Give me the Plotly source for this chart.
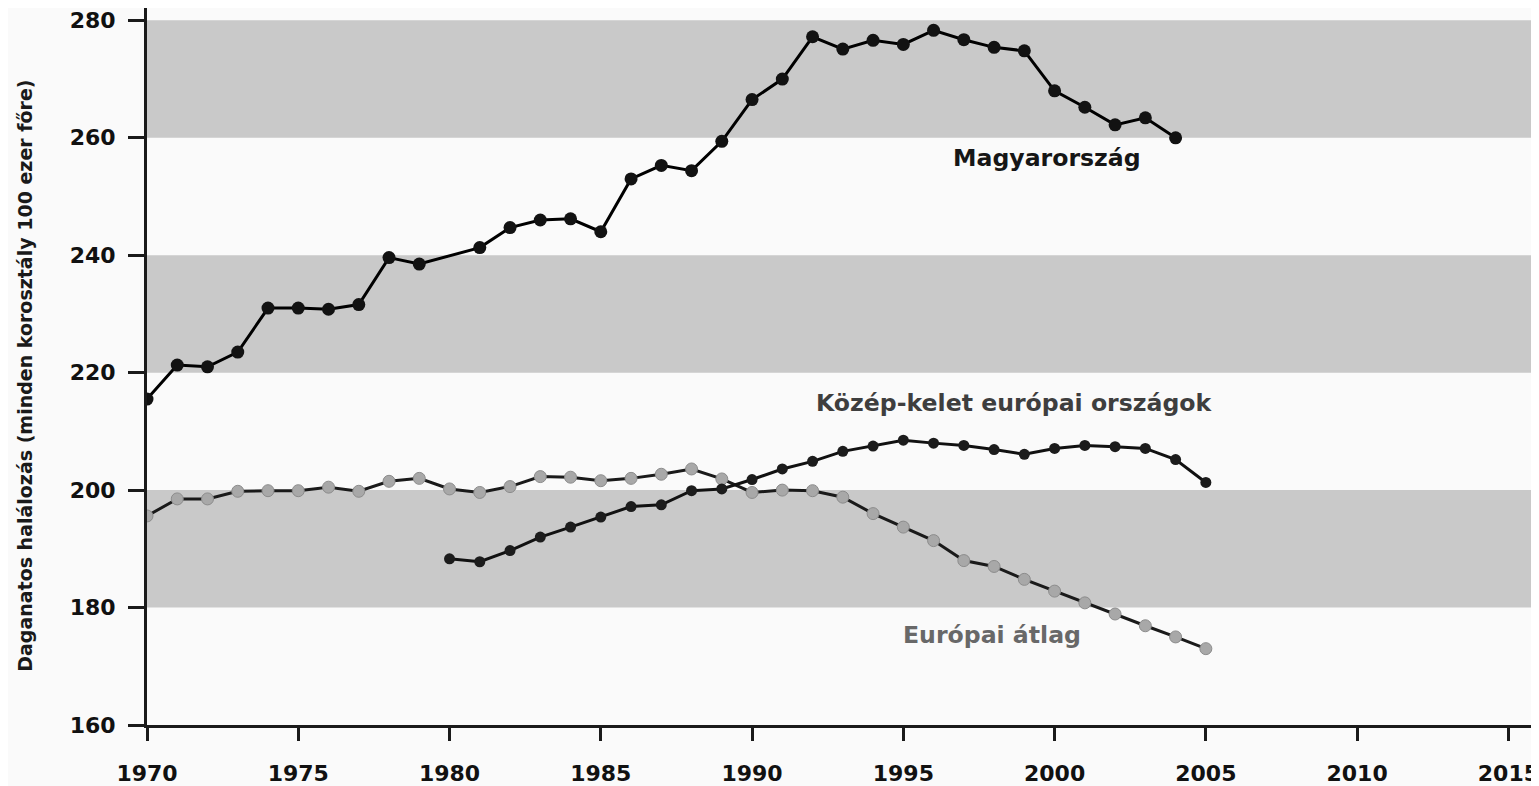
import plotly.graph_objects as go

# Data
years_hu = [1970, 1971, 1972, 1973, 1974, 1975, 1976, 1977, 1978, 1979,
            1981, 1982, 1983, 1984, 1985, 1986, 1987, 1988, 1989, 1990,
            1991, 1992, 1993, 1994, 1995, 1996, 1997, 1998, 1999, 2000,
            2001, 2002, 2003, 2004]
magyarorszag = [215.5, 221.3, 221.0, 223.5, 231.0, 231.0, 230.8, 231.6, 239.6, 238.5,
                241.3, 244.7, 246.0, 246.2, 244.0, 253.0, 255.3, 254.4, 259.4, 266.5,
                270.0, 277.2, 275.1, 276.6, 275.9, 278.3, 276.7, 275.4, 274.8, 268.0,
                265.2, 262.2, 263.4, 260.0]

years_eu = list(range(1970, 2006))
europai_atlag = [195.6, 198.5, 198.5, 199.8, 199.9, 199.9, 200.5, 199.8, 201.5, 202.0,
                 200.2, 199.6, 200.6, 202.3, 202.2, 201.6, 202.0, 202.7, 203.6, 201.9,
                 199.6, 200.0, 199.9, 198.8, 196.0, 193.7, 191.4, 188.0, 187.0, 184.8,
                 182.8, 180.8, 178.9, 176.9, 175.0, 173.0]

years_kk = list(range(1980, 2006))
kozep_kelet = [188.3, 187.8, 189.7, 192.0, 193.7, 195.4, 197.2, 197.5, 199.9, 200.2,
               201.8, 203.6, 204.9, 206.6, 207.5, 208.5, 208.0, 207.6, 206.9, 206.1,
               207.1, 207.6, 207.4, 207.1, 205.2, 201.3]

x_ticks = [1970, 1975, 1980, 1985, 1990, 1995, 2000, 2005, 2010, 2015]
y_ticks = [160, 180, 200, 220, 240, 260, 280]
bands = [(180, 200), (220, 240), (260, 280)]

labels = [
    ("Magyarország", 1999.76, 256.6, "#161616"),
    ("Közép-kelet európai országok", 1998.69, 214.8, "#3e3e3e"),
    ("Európai átlag", 1997.92, 175.3, "#686868"),
]

FONT = "DejaVu Sans, Verdana, sans-serif"

fig = go.Figure()

for y0, y1 in bands:
    fig.add_shape(type="rect", xref="paper", x0=0, x1=1, yref="y", y0=y0, y1=y1,
                  fillcolor="#c9c9c9", line=dict(width=0), layer="below")

fig.add_trace(go.Scatter(
    x=years_eu, y=europai_atlag, mode="lines+markers", name="Európai átlag",
    line=dict(color="#1a1a1a", width=3),
    marker=dict(size=12, color="#a8a8a8", line=dict(color="#8c8c8c", width=1)),
))
fig.add_trace(go.Scatter(
    x=years_kk, y=kozep_kelet, mode="lines+markers", name="Közép-kelet európai országok",
    line=dict(color="#111111", width=3),
    marker=dict(size=11, color="#1c1c1c"),
))
fig.add_trace(go.Scatter(
    x=years_hu, y=magyarorszag, mode="lines+markers", name="Magyarország",
    line=dict(color="#000000", width=3),
    marker=dict(size=13, color="#121212"),
))

for text, xv, yv, col in labels:
    fig.add_annotation(x=xv, y=yv, text=f"<b>{text}</b>", showarrow=False,
                       font=dict(family=FONT, size=23.6, color=col))

fig.add_annotation(xref="paper", yref="paper", x=-0.0876, y=0.4876,
                   xanchor="center", yanchor="middle",
                   text="<b>Daganatos halálozás (minden korosztály 100 ezer főre)</b>",
                   textangle=-90, showarrow=False,
                   font=dict(family=FONT, size=19, color="#1a1a1a"))

fig.update_layout(
    width=1531, height=778,
    margin=dict(l=139, r=0, t=0, b=52),
    paper_bgcolor="#fafafa", plot_bgcolor="#fafafa",
    showlegend=False,
    font=dict(family=FONT, size=22, color="#111111"),
)
fig.update_xaxes(
    range=[1970, 2015.88], tickvals=x_ticks, ticktext=[f"<b>{t}</b>" for t in x_ticks],
    showgrid=False, zeroline=False, showline=True, linecolor="#1a1a1a", linewidth=3,
    ticks="outside", ticklen=13, tickwidth=3, tickcolor="#1a1a1a",
    ticklabelstandoff=14, ticklabeloverflow="allow",
    tickfont=dict(family=FONT, size=22, color="#111111"),
)
fig.update_yaxes(
    range=[160, 282.1], tickvals=y_ticks, ticktext=[f"<b>{t}</b>" for t in y_ticks],
    showgrid=False, zeroline=False, showline=True, linecolor="#1a1a1a", linewidth=3,
    ticks="outside", ticklen=16, tickwidth=3, tickcolor="#1a1a1a",
    ticklabelstandoff=8,
    tickfont=dict(family=FONT, size=22, color="#111111"),
)

fig.write_html("out.html")
